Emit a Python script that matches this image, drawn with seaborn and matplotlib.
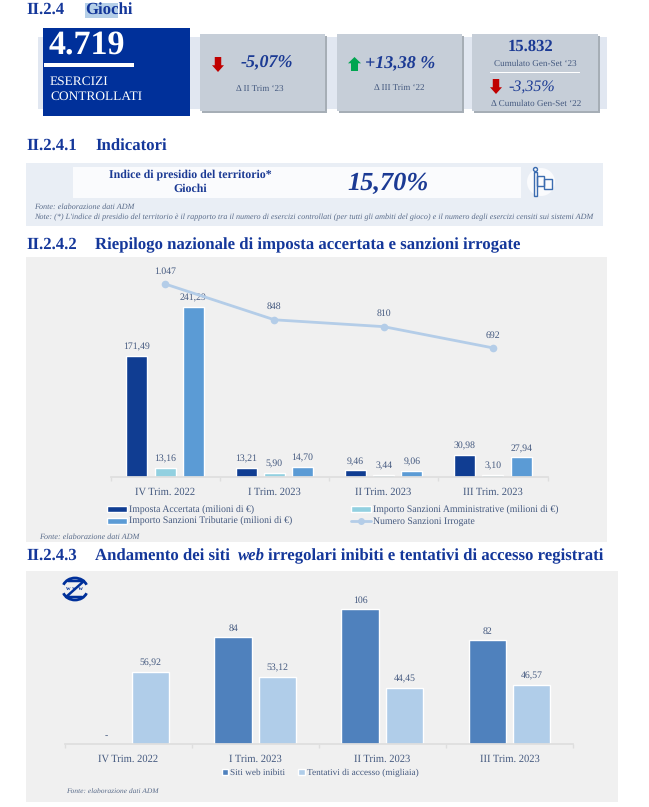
import matplotlib
matplotlib.use("Agg")
import matplotlib.pyplot as plt
import seaborn as sns
import pandas as pd
from matplotlib.patches import Rectangle, Polygon, Circle, Arc
from matplotlib.lines import Line2D

W, H = 649, 807
sns.set_theme(style="white")
plt.rcParams['font.family'] = ['Liberation Serif', 'DejaVu Serif']
plt.rcParams['text.hinting'] = 'no_hinting'

# ---------- data ----------
quarters = ["IV Trim. 2022", "I Trim. 2023", "II Trim. 2023", "III Trim. 2023"]
imposta = [171.49, 13.21, 9.46, 30.98]
amministrative = [13.16, 5.90, 3.44, 3.10]
tributarie = [241.29, 14.70, 9.06, 27.94]
numero_sanzioni = [1047, 848, 810, 692]
numero_labels = ["1.047", "848", "810", "692"]
siti = [0, 84, 106, 82]
siti_labels = ["-", "84", "106", "82"]
tentativi = [56.92, 53.12, 44.45, 46.57]

s1_names = ["Imposta Accertata (milioni di €)", "Importo Sanzioni Amministrative (milioni di €)",
            "Importo Sanzioni Tributarie (milioni di €)"]
line_name = "Numero Sanzioni Irrogate"
s2_names = ["Siti web inibiti", "Tentativi di accesso (migliaia)"]

# ---------- colours ----------
NAVY = "#1B3A94"
HEAD = "#14379A"
TXT = "#44597F"
BOX = "#00309A"
CARD = "#C6CED8"
STRIP = "#E1E7F1"
PANEL = "#F0F0F0"
P1 = ["#103D92", "#92D0E0", "#5B9BD5"]
LINE = "#B4CDE8"
P2 = ["#4F81BD", "#B0CDE9"]
AXC = "#DEDEDE"
HS = 12.1

fig = plt.figure(figsize=(W / 100, H / 100), dpi=100, facecolor="white")
ov = fig.add_axes([0, 0, 1, 1], zorder=0)
ov.set_xlim(0, W)
ov.set_ylim(H, 0)
ov.axis("off")


def rect(x0, y0, x1, y1, c, z=1):
    ov.add_patch(Rectangle((x0, y0), x1 - x0, y1 - y0, fc=c, ec="none", zorder=z))


def t(x, y, s, size=7, c=TXT, ha="center", weight="normal", style="normal", z=5):
    ov.text(x, y, s, fontsize=size, color=c, ha=ha, va="center", fontweight=weight, fontstyle=style, zorder=z)


def arrow(x0, x1, y0, y1, c, up=False):
    xm = (x0 + x1) / 2
    w = (x1 - x0) * 0.27
    if up:
        yh = y0 + (y1 - y0) * 0.45
        pts = [(xm, y0), (x1, yh), (xm + w, yh), (xm + w, y1), (xm - w, y1), (xm - w, yh), (x0, yh)]
    else:
        yh = y1 - (y1 - y0) * 0.45
        pts = [(xm, y1), (x1, yh), (xm + w, yh), (xm + w, y0), (xm - w, y0), (xm - w, yh), (x0, yh)]
    ov.add_patch(Polygon(pts, fc=c, ec="none", zorder=4))


def heading(y, num, title, x=95):
    t(26, y, num, HS, HEAD, "left", "bold")
    t(x, y, title, HS, HEAD, "left", "bold")


# ---------- header + KPI strip ----------
rect(85, 3, 118, 18, "#B5CFE8", 1)
heading(10, "II.2.4", "Giochi", 85)
rect(38, 37, 607, 109, STRIP)
rect(43, 28, 190, 116, BOX, 2)
t(49, 46, "4.719", 24.5, "white", "left", weight="bold", z=5)
rect(44, 63, 134, 67, "white", 3)
t(50, 82, "ESERCIZI", 9.6, "white", "left")
t(50, 97, "CONTROLLATI", 9.6, "white", "left")
for x0, x1 in [(200, 325), (337, 462), (472, 598)]:
    rect(x0 + 2, 36, x1 + 2, 113, "#A6AEB6", 2)
    rect(x0, 34, x1, 111, CARD, 3)
arrow(212, 224, 57, 72, "#C00000")
t(267, 63, "-5,07%", 13, NAVY, style="italic", weight="bold")
t(260, 89, "Δ II Trim ‘23", 6.5)
arrow(348, 361, 57, 71, "#00A550", up=True)
t(400, 64, "+13,38 %", 13, NAVY, style="italic", weight="bold")
t(399, 88, "Δ III Trim ‘22", 6.5)
t(531, 47, "15.832", 12, NAVY, weight="bold")
t(535, 64, "Cumulato Gen-Set ‘23", 6.6)
rect(490, 71.5, 580, 72.8, "white", 4)
arrow(490, 502, 79, 94, "#C00000")
t(532, 88, "-3,35%", 11.5, NAVY, style="italic")
t(536, 104, "Δ Cumulato Gen-Set ‘22", 6.6)

# ---------- indicator ----------
heading(146, "II.2.4.1", "Indicatori")
rect(26, 163, 603, 226, "#E9EEF5")
rect(73, 167, 521, 198, "#FAFBFD", 2)
t(190, 175, "Indice di presidio del territorio*", 8.6, NAVY, weight="bold")
t(190, 189, "Giochi", 8.6, NAVY, weight="bold")
t(388, 184, "15,70%", 19, NAVY, style="italic", weight="bold")
ov.add_patch(Circle((541, 182), 14, fc="#FAFBFD", ec="none", zorder=2))
ov.add_patch(Rectangle((534, 172), 3, 24, fc="none", ec="#3B6CB0", lw=1, zorder=3))
ov.add_patch(Circle((535.5, 169.5), 2, fc="none", ec="#3B6CB0", lw=1, zorder=3))
ov.add_patch(Rectangle((537, 176), 7, 10, fc="none", ec="#3B6CB0", lw=1, zorder=3))
ov.add_patch(Rectangle((544, 179), 8, 10, fc="none", ec="#3B6CB0", lw=1, zorder=3))
t(34, 207, "Fonte: elaborazione dati ADM", 5.9, "#5A6C8A", "left", style="italic")
t(34, 217, "Note: (*) L'indice di presidio del territorio è il rapporto tra il numero di esercizi controllati "
           "(per tutti gli ambiti del gioco) e il numero degli esercizi censiti sui sistemi ADM",
  5.9, "#5A6C8A", "left", style="italic")

# ---------- chart 1 ----------
heading(245, "II.2.4.2", "Riepilogo nazionale di imposta accertata e sanzioni irrogate")
rect(26, 257, 607, 542, PANEL)


def chart_axes(x0, x1, ytop, ybase):
    a = fig.add_axes([x0 / W, 1 - ybase / H, (x1 - x0) / W, (ybase - ytop) / H], zorder=2)
    a.patch.set_alpha(0)
    return a


def style_axis(a, n):
    sns.despine(ax=a, left=True)
    a.spines["bottom"].set_color(AXC)
    a.set_xlim(-0.5, n - 0.5)
    a.set_xlabel("")
    a.set_ylabel("")
    a.set_yticks([])
    a.set_xticks([i - 0.5 for i in range(n + 1)], minor=True)
    a.tick_params(axis="x", which="minor", length=3, color=AXC, bottom=True)
    a.tick_params(axis="x", which="major", length=0, labelsize=7.6, labelcolor=TXT, pad=7)


df1 = pd.DataFrame({"Trimestre": quarters * 3,
                    "Serie": [n for n in s1_names for _ in quarters],
                    "Valore": imposta + amministrative + tributarie})
ax1 = chart_axes(110.5, 547.5, 262, 477)
sns.barplot(data=df1, x="Trimestre", y="Valore", hue="Serie", hue_order=s1_names, palette=P1,
            width=0.775, gap=0.26, saturation=1, legend=False, ax=ax1)
ax1.set_ylim(0, 305)
style_axis(ax1, len(quarters))
for cont, vals in zip(ax1.containers, [imposta, amministrative, tributarie]):
    ax1.bar_label(cont, labels=[f"{v:.2f}".replace(".", ",") for v in vals],
                  padding=3, fontsize=7, color=TXT)

ax1b = ax1.twinx()
ax1b.patch.set_alpha(0)
sns.lineplot(x=list(range(len(quarters))), y=numero_sanzioni, ax=ax1b, color=LINE, lw=2,
             marker="o", markersize=5.5, markeredgewidth=0)
ax1b.set_ylim(-25, 1169)
ax1b.set_xlim(-0.5, len(quarters) - 0.5)
ax1b.set_yticks([])
sns.despine(ax=ax1b, left=True, right=True, bottom=True)
for i, (v, s) in enumerate(zip(numero_sanzioni, numero_labels)):
    ax1b.annotate(s, (i, v), xytext=(0, 6), textcoords="offset points", ha="center", va="bottom",
                  fontsize=7, color=TXT)

legend_handles = [Rectangle((0, 0), 1, 1, fc=P1[0]), Rectangle((0, 0), 1, 1, fc=P1[2]),
                  Rectangle((0, 0), 1, 1, fc=P1[1]),
                  Line2D([], [], color=LINE, lw=2, marker="o", markersize=5, markeredgewidth=0)]
fig.legend(legend_handles, [s1_names[0], s1_names[2], s1_names[1], line_name], ncol=2,
           loc="center left", bbox_to_anchor=(107 / W, 1 - 516 / H), frameon=False,
           fontsize=7, labelcolor=TXT, handlelength=2.05, handleheight=0.55, handletextpad=0.2,
           columnspacing=6.1, labelspacing=0.25, borderpad=0, borderaxespad=0)
t(39, 537, "Fonte: elaborazione dati ADM", 5.9, "#5A6C8A", "left", style="italic")

# ---------- chart 2 ----------
t(26, 556, "II.2.4.3", HS, HEAD, "left", "bold")
t(95, 556, "Andamento dei siti", HS, HEAD, "left", "bold")
t(238, 556, "web", HS, HEAD, "left", "bold", "italic")
t(268, 556, "irregolari inibiti e tentativi di accesso registrati", HS, HEAD, "left", "bold")
rect(26, 571, 618, 802, PANEL)

# www logo
ov.add_patch(Arc((75, 589), 25, 22, theta1=200, theta2=340, ec=BOX, lw=2, zorder=3))
ov.add_patch(Arc((75, 589), 25, 22, theta1=20, theta2=160, ec=BOX, lw=2, zorder=3))
ov.add_line(Line2D([68, 84, 66, 82], [581, 581, 597, 597], color=BOX, lw=1.8, zorder=3))
t(75, 589, "w w w", 4.6, BOX, weight="bold")

df2 = pd.DataFrame({"Trimestre": quarters * 2,
                    "Serie": [n for n in s2_names for _ in quarters],
                    "Valore": siti + tentativi})
ax2 = chart_axes(64.5, 573, 575, 744)
sns.barplot(data=df2, x="Trimestre", y="Valore", hue="Serie", hue_order=s2_names, palette=P2,
            width=0.698, gap=0.157, saturation=1, legend=False, ax=ax2)
ax2.set_ylim(0, 169 / 1.27)
style_axis(ax2, len(quarters))
ax2.bar_label(ax2.containers[0], labels=siti_labels, padding=3, fontsize=7, color=TXT)
ax2.bar_label(ax2.containers[1], labels=[f"{v:.2f}".replace(".", ",") for v in tentativi],
              padding=3, fontsize=7, color=TXT)
fig.legend([Rectangle((0, 0), 1, 1, fc=P2[0]), Rectangle((0, 0), 1, 1, fc=P2[1])], s2_names, ncol=2,
           loc="center", bbox_to_anchor=(320 / W, 1 - 773 / H), frameon=False, fontsize=6.7, labelcolor=TXT,
           handlelength=0.7, handleheight=0.7, handletextpad=0.2, columnspacing=1.4, borderpad=0)
t(66, 791, "Fonte: elaborazione dati ADM", 5.4, "#5A6C8A", "left", style="italic")

fig.savefig("out.png", dpi=100, facecolor="white")
